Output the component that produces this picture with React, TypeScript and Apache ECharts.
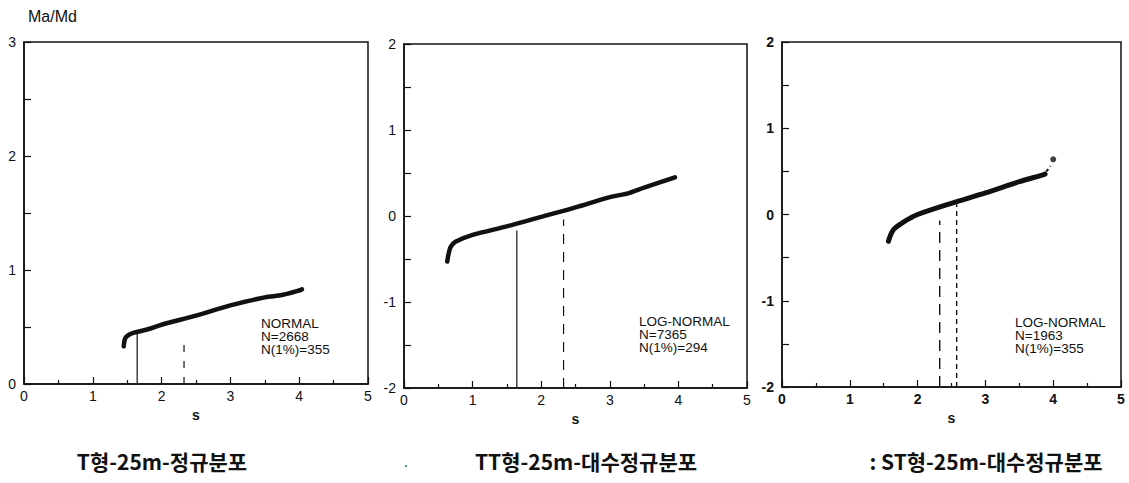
import React, { useEffect, useRef } from "react";
import * as echarts from "echarts";

// ---- data ----
const sNormal = [1.45, 1.47, 1.52, 1.6, 1.8, 2.0, 2.5, 3.0, 3.5, 3.75, 4.0, 4.04];
const yNormal = [0.33, 0.4, 0.43, 0.45, 0.48, 0.52, 0.6, 0.69, 0.76, 0.78, 0.82, 0.83];

const sTT = [0.63, 0.65, 0.68, 0.75, 1.0, 1.5, 2.0, 2.5, 3.0, 3.25, 3.5, 3.95];
const yTT = [-0.53, -0.44, -0.36, -0.3, -0.22, -0.12, -0.01, 0.1, 0.22, 0.26, 0.33, 0.45];

const sST = [1.57, 1.6, 1.65, 1.75, 1.85, 2.0, 2.5, 3.0, 3.5, 3.85, 3.88];
const yST = [-0.31, -0.24, -0.17, -0.11, -0.06, 0.0, 0.13, 0.25, 0.38, 0.46, 0.47];
const sSTtail = [3.9, 3.96];
const ySTtail = [0.5, 0.56];
const sSTdot = [4.0];
const ySTdot = [0.64];

// vertical reference lines: [s, bottom, top]
const p1Solid = [1.645, 0, 0.44];
const p1Dash = [2.326, 0, 0.39];
const p2Solid = [1.645, -2, -0.17];
const p2Dash = [2.326, -2, -0.04];
const p3Dash = [2.326, -2, -0.07];
const p3Dot = [2.576, -2, 0.12];

const yRanges = [
  [0, 3],
  [-2, 2],
  [-2, 2],
];
const annotations = [
  ["NORMAL", "N=2668", "N(1%)=355"],
  ["LOG-NORMAL", "N=7365", "N(1%)=294"],
  ["LOG-NORMAL", "N=1963", "N(1%)=355"],
];
const captions = ["T형-25m-정규분포", "TT형-25m-대수정규분포", ": ST형-25m-대수정규분포"];
const yAxisTitle = "Ma/Md";
const xAxisTitle = "s";

const zip = (a: number[], b: number[]) => a.map((v, i) => [v, b[i]]);
const vline = (v: number[]) => [
  [v[0], v[1]],
  [v[0], v[2]],
];

const grids = [
  { left: 24, top: 42, width: 344, height: 342 },
  { left: 404, top: 44, width: 343, height: 344 },
  { left: 782, top: 42, width: 339, height: 345 },
];
const annotPos = [
  [261, 317],
  [639, 315],
  [1015, 316],
];
const captionPos = [162, 586, 986];

export default function App() {
  const ref = useRef<HTMLDivElement>(null);
  useEffect(() => {
    document.body.style.margin = "0";
    const chart = echarts.init(ref.current!, null, { renderer: "svg" });
    const font = "Liberation Sans";
    const black = "#111";
    const option: any = {
      animation: false,
      backgroundColor: "#fff",
      grid: grids.map((g) => ({
        ...g,
        show: true,
        borderColor: black,
        borderWidth: 1.5,
        backgroundColor: "transparent",
        containLabel: false,
        outerBoundsMode: "none",
      })),
      xAxis: grids.map((_, i) => ({
        type: "value",
        gridIndex: i,
        min: 0,
        max: 5,
        interval: 1,
        name: xAxisTitle,
        nameLocation: "middle",
        nameGap: 20,
        nameTextStyle: { fontFamily: font, fontSize: 14, fontWeight: "bold", color: black },
        axisLine: { show: true, onZero: false, lineStyle: { color: black, width: 1.5 } },
        axisTick: { show: true, inside: true, length: 7, lineStyle: { color: black, width: 1.2 } },
        minorTick: { show: true, splitNumber: 2, length: 4, lineStyle: { color: black, width: 1.2 } },
        axisLabel: {
          margin: 5,
          fontFamily: font,
          fontSize: 14,
          color: black,
          fontWeight: i === 2 ? "bold" : "normal",
        },
        splitLine: { show: false },
        minorSplitLine: { show: false },
      })),
      yAxis: grids.map((_, i) => ({
        type: "value",
        gridIndex: i,
        min: yRanges[i][0],
        max: yRanges[i][1],
        interval: 1,
        axisLine: { show: true, onZero: false, lineStyle: { color: black, width: 1.5 } },
        axisTick: { show: true, inside: true, length: 7, lineStyle: { color: black, width: 1.2 } },
        minorTick: { show: true, splitNumber: 2, length: 7, lineStyle: { color: black, width: 1.2 } },
        axisLabel: {
          margin: 8,
          fontFamily: font,
          fontSize: 14,
          color: black,
          fontWeight: i === 2 ? "bold" : "normal",
          formatter: (v: number) => (v < 0 ? "-" + Math.abs(v) : String(v)),
        },
        splitLine: { show: false },
        minorSplitLine: { show: false },
      })),
      series: [
        {
          type: "line",
          xAxisIndex: 0,
          yAxisIndex: 0,
          data: zip(sNormal, yNormal),
          smooth: 0.3,
          symbol: "none",
          lineStyle: { color: black, width: 4.5, cap: "round" },
        },
        {
          type: "line",
          xAxisIndex: 1,
          yAxisIndex: 1,
          data: zip(sTT, yTT),
          smooth: 0.3,
          symbol: "none",
          lineStyle: { color: black, width: 4.5, cap: "round" },
        },
        {
          type: "line",
          xAxisIndex: 2,
          yAxisIndex: 2,
          data: zip(sST, yST),
          smooth: 0.3,
          symbol: "none",
          lineStyle: { color: black, width: 5, cap: "round" },
        },
        {
          type: "line",
          xAxisIndex: 2,
          yAxisIndex: 2,
          data: zip(sSTtail, ySTtail),
          symbol: "none",
          lineStyle: { color: black, width: 2, type: [3, 3] },
        },
        {
          type: "scatter",
          xAxisIndex: 2,
          yAxisIndex: 2,
          data: zip(sSTdot, ySTdot),
          symbol: "circle",
          symbolSize: 6,
          itemStyle: { color: black },
        },
        {
          type: "line",
          xAxisIndex: 0,
          yAxisIndex: 0,
          data: vline(p1Solid),
          symbol: "none",
          lineStyle: { color: black, width: 1.2 },
        },
        {
          type: "line",
          xAxisIndex: 0,
          yAxisIndex: 0,
          data: vline(p1Dash),
          symbol: "none",
          lineStyle: { color: black, width: 1.2, type: [7, 9] },
        },
        {
          type: "line",
          xAxisIndex: 1,
          yAxisIndex: 1,
          data: vline(p2Solid),
          symbol: "none",
          lineStyle: { color: black, width: 1.2 },
        },
        {
          type: "line",
          xAxisIndex: 1,
          yAxisIndex: 1,
          data: vline(p2Dash),
          symbol: "none",
          lineStyle: { color: black, width: 1.2, type: [10, 8] },
        },
        {
          type: "line",
          xAxisIndex: 2,
          yAxisIndex: 2,
          data: vline(p3Dash),
          symbol: "none",
          lineStyle: { color: black, width: 1.4, type: [11, 7] },
        },
        {
          type: "line",
          xAxisIndex: 2,
          yAxisIndex: 2,
          data: vline(p3Dot),
          symbol: "none",
          lineStyle: { color: black, width: 1.4, type: [5, 4] },
        },
      ],
      graphic: [
        {
          type: "text",
          left: 28,
          top: 8,
          style: { text: yAxisTitle, font: `16px "${font}"`, fill: black },
        },
        ...annotations.map((lines, i) => ({
          type: "text",
          x: annotPos[i][0],
          y: annotPos[i][1],
          style: {
            text: lines.join("\n"),
            font: `13.5px "${font}"`,
            lineHeight: 13,
            fill: black,
          },
        })),
        ...captions.map((c, i) => ({
          type: "text",
          x: captionPos[i],
          y: 461,
          style: {
            text: c,
            font: `bold 21px "Noto Sans CJK KR"`,
            fill: black,
            align: "center",
            verticalAlign: "middle",
          },
        })),
        {
          type: "text",
          x: 406,
          y: 462,
          style: { text: ".", font: `14px "${font}"`, fill: black, align: "center", verticalAlign: "middle" },
        },
      ],
    };
    chart.setOption(option);
    return () => chart.dispose();
  }, []);
  return <div ref={ref} style={{ width: 1129, height: 483 }} />;
}
